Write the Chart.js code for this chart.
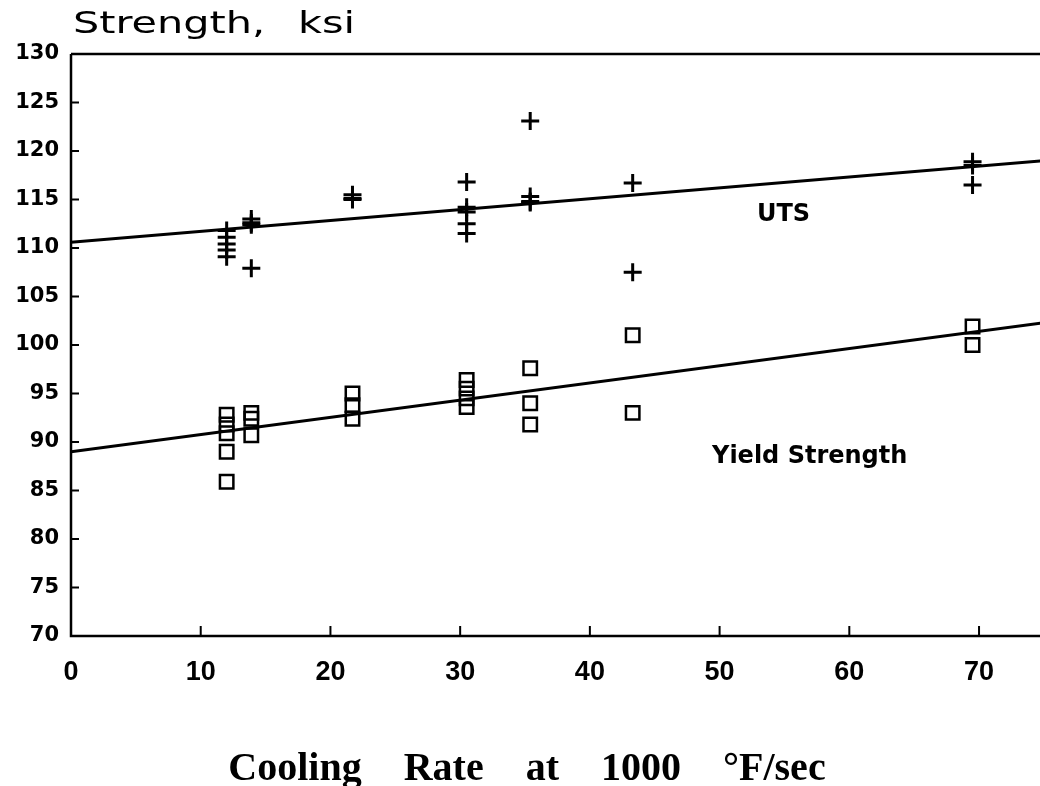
<!DOCTYPE html>
<html>
<head>
<meta charset="utf-8">
<script src="https://cdn.jsdelivr.net/npm/chart.js@4.4.1/dist/chart.umd.min.js"></script>
<style>
  html, body { margin: 0; padding: 0; background: #fff; }
  canvas { display: block; }
</style>
</head>
<body>
<canvas id="chart" width="1040" height="786"></canvas>
<script>
// Tick values
const xTickValues = [0, 10, 20, 30, 40, 50, 60, 70];
const yTickValues = [70, 75, 80, 85, 90, 95, 100, 105, 110, 115, 120, 125, 130];

// UTS points (cooling rate, ksi)
const utsRate = [12, 12, 12, 12, 12, 13.9, 13.9, 13.9, 13.9, 21.7, 21.7, 21.7,
  30.5, 30.5, 30.5, 30.5, 30.5, 35.4, 35.4, 35.4, 35.4, 43.3, 43.3, 69.5, 69.5, 69.5];
const utsKsi = [111.8, 111.1, 110.4, 109.8, 109.1, 113.0, 112.6, 112.4, 107.9, 115.5, 115.1, 115.0,
  116.8, 114.2, 113.7, 112.5, 111.5, 123.1, 115.3, 114.8, 114.7, 116.7, 107.5, 118.9, 118.5, 116.5];

// Yield strength points
const ysRate = [12, 12, 12, 12, 12, 13.9, 13.9, 13.9, 21.7, 21.7, 21.7,
  30.5, 30.5, 30.5, 30.5, 35.4, 35.4, 35.4, 43.3, 43.3, 69.5, 69.5];
const ysKsi = [92.8, 91.8, 90.9, 89.0, 85.9, 93.0, 92.4, 90.7, 95.0, 93.8, 92.4,
  96.4, 95.5, 94.5, 93.6, 97.6, 94.0, 91.8, 101.0, 93.0, 101.9, 100.0];

// Fitted lines
const utsFitRate = [0, 75];
const utsFitKsi = [110.6, 119.0];
const ysFitRate = [0, 75];
const ysFitKsi = [89.0, 102.3];

const xTitleWords = ['Cooling', 'Rate', 'at', '1000', '°F/sec'];

function toPoints(xs, ys) {
  return xs.map((x, i) => ({ x: x, y: ys[i] }));
}

// stretched text, like the wide lettering of the original plot
function wideText(ctx, text, x, y, sx) {
  ctx.save();
  ctx.translate(x, y);
  ctx.scale(sx, 1);
  ctx.fillText(text, 0, 0);
  ctx.restore();
}

// Draws the frame, inward tick marks and text labels
const framePlugin = {
  id: 'frame',
  afterDraw(chart) {
    const ctx = chart.ctx;
    const area = chart.chartArea;
    const xs = chart.scales.x;
    const ys = chart.scales.y;
    ctx.save();
    ctx.strokeStyle = '#000';
    ctx.lineCap = 'butt';

    // axes and top border
    ctx.lineWidth = 2.5;
    ctx.beginPath();
    ctx.moveTo(area.left, area.top);
    ctx.lineTo(area.left, area.bottom);
    ctx.lineTo(area.right, area.bottom);
    ctx.moveTo(area.left, area.top);
    ctx.lineTo(area.right, area.top);
    ctx.stroke();

    // inward ticks
    ctx.lineWidth = 2;
    ctx.beginPath();
    xTickValues.forEach(v => {
      const px = xs.getPixelForValue(v);
      ctx.moveTo(px, area.bottom);
      ctx.lineTo(px, area.bottom - 10);
    });
    yTickValues.forEach(v => {
      const py = ys.getPixelForValue(v);
      ctx.moveTo(area.left, py);
      ctx.lineTo(area.left + 8, py);
    });
    ctx.stroke();

    // y axis title
    ctx.fillStyle = '#000';
    ctx.textBaseline = 'alphabetic';
    ctx.textAlign = 'left';
    ctx.font = '500 30px "DejaVu Sans"';
    wideText(ctx, 'Strength,', 73, 33, 1.38);
    wideText(ctx, 'ksi', 298, 33, 1.38);

    // series labels
    ctx.font = 'bold 24px "DejaVu Sans"';
    ctx.textBaseline = 'middle';
    ctx.fillText('UTS', 757, 215);
    ctx.fillText('Yield Strength', 712, 457);

    // x axis title with wide word gaps
    ctx.font = 'bold 40px "Liberation Serif", serif';
    ctx.textBaseline = 'alphabetic';
    const gap = 42;
    const widths = xTitleWords.map(w => ctx.measureText(w).width);
    const total = widths.reduce((a, b) => a + b, 0) + gap * (xTitleWords.length - 1);
    let tx = 527 - total / 2;
    xTitleWords.forEach((w, i) => {
      ctx.fillText(w, tx, 780);
      tx += widths[i] + gap;
    });
    ctx.restore();
  }
};

new Chart(document.getElementById('chart'), {
  type: 'scatter',
  data: {
    datasets: [
      {
        label: 'UTS fit',
        type: 'line',
        data: toPoints(utsFitRate, utsFitKsi),
        borderColor: '#000',
        borderWidth: 3,
        pointRadius: 0,
        fill: false
      },
      {
        label: 'Yield fit',
        type: 'line',
        data: toPoints(ysFitRate, ysFitKsi),
        borderColor: '#000',
        borderWidth: 3,
        pointRadius: 0,
        fill: false
      },
      {
        label: 'UTS',
        data: toPoints(utsRate, utsKsi),
        pointStyle: 'cross',
        pointRadius: 9,
        borderColor: '#000',
        borderWidth: 3
      },
      {
        label: 'Yield Strength',
        data: toPoints(ysRate, ysKsi),
        pointStyle: 'rect',
        pointRadius: 9.5,
        borderColor: '#000',
        backgroundColor: 'rgba(0,0,0,0)',
        borderWidth: 2.5
      }
    ]
  },
  options: {
    responsive: false,
    animation: false,
    devicePixelRatio: 1,
    layout: { autoPadding: false, padding: { top: 54, right: 0, bottom: 0, left: 0 } },
    plugins: {
      legend: { display: false },
      tooltip: { enabled: false }
    },
    scales: {
      x: {
        type: 'linear',
        min: 0,
        max: 74.7,
        afterBuildTicks: s => { s.ticks = xTickValues.map(v => ({ value: v })); },
        afterFit: s => { s.height = 150; s.paddingLeft = 0; s.paddingRight = 0; },
        grid: { display: false, drawTicks: false },
        border: { display: false },
        ticks: {
          color: '#000',
          padding: 20,
          font: { family: '"Liberation Sans Narrow", "Liberation Sans", sans-serif', weight: 'bold', size: 27 }
        },
        title: { display: false }
      },
      y: {
        min: 70,
        max: 130,
        afterBuildTicks: s => { s.ticks = yTickValues.map(v => ({ value: v })); },
        afterFit: s => { s.width = 71; s.paddingTop = 0; s.paddingBottom = 0; },
        grid: { display: false, drawTicks: false },
        border: { display: false },
        ticks: {
          color: '#000',
          padding: 12,
          font: { family: '"DejaVu Sans"', weight: 'bold', size: 21 }
        }
      }
    }
  },
  plugins: [framePlugin]
});
</script>
</body>
</html>
